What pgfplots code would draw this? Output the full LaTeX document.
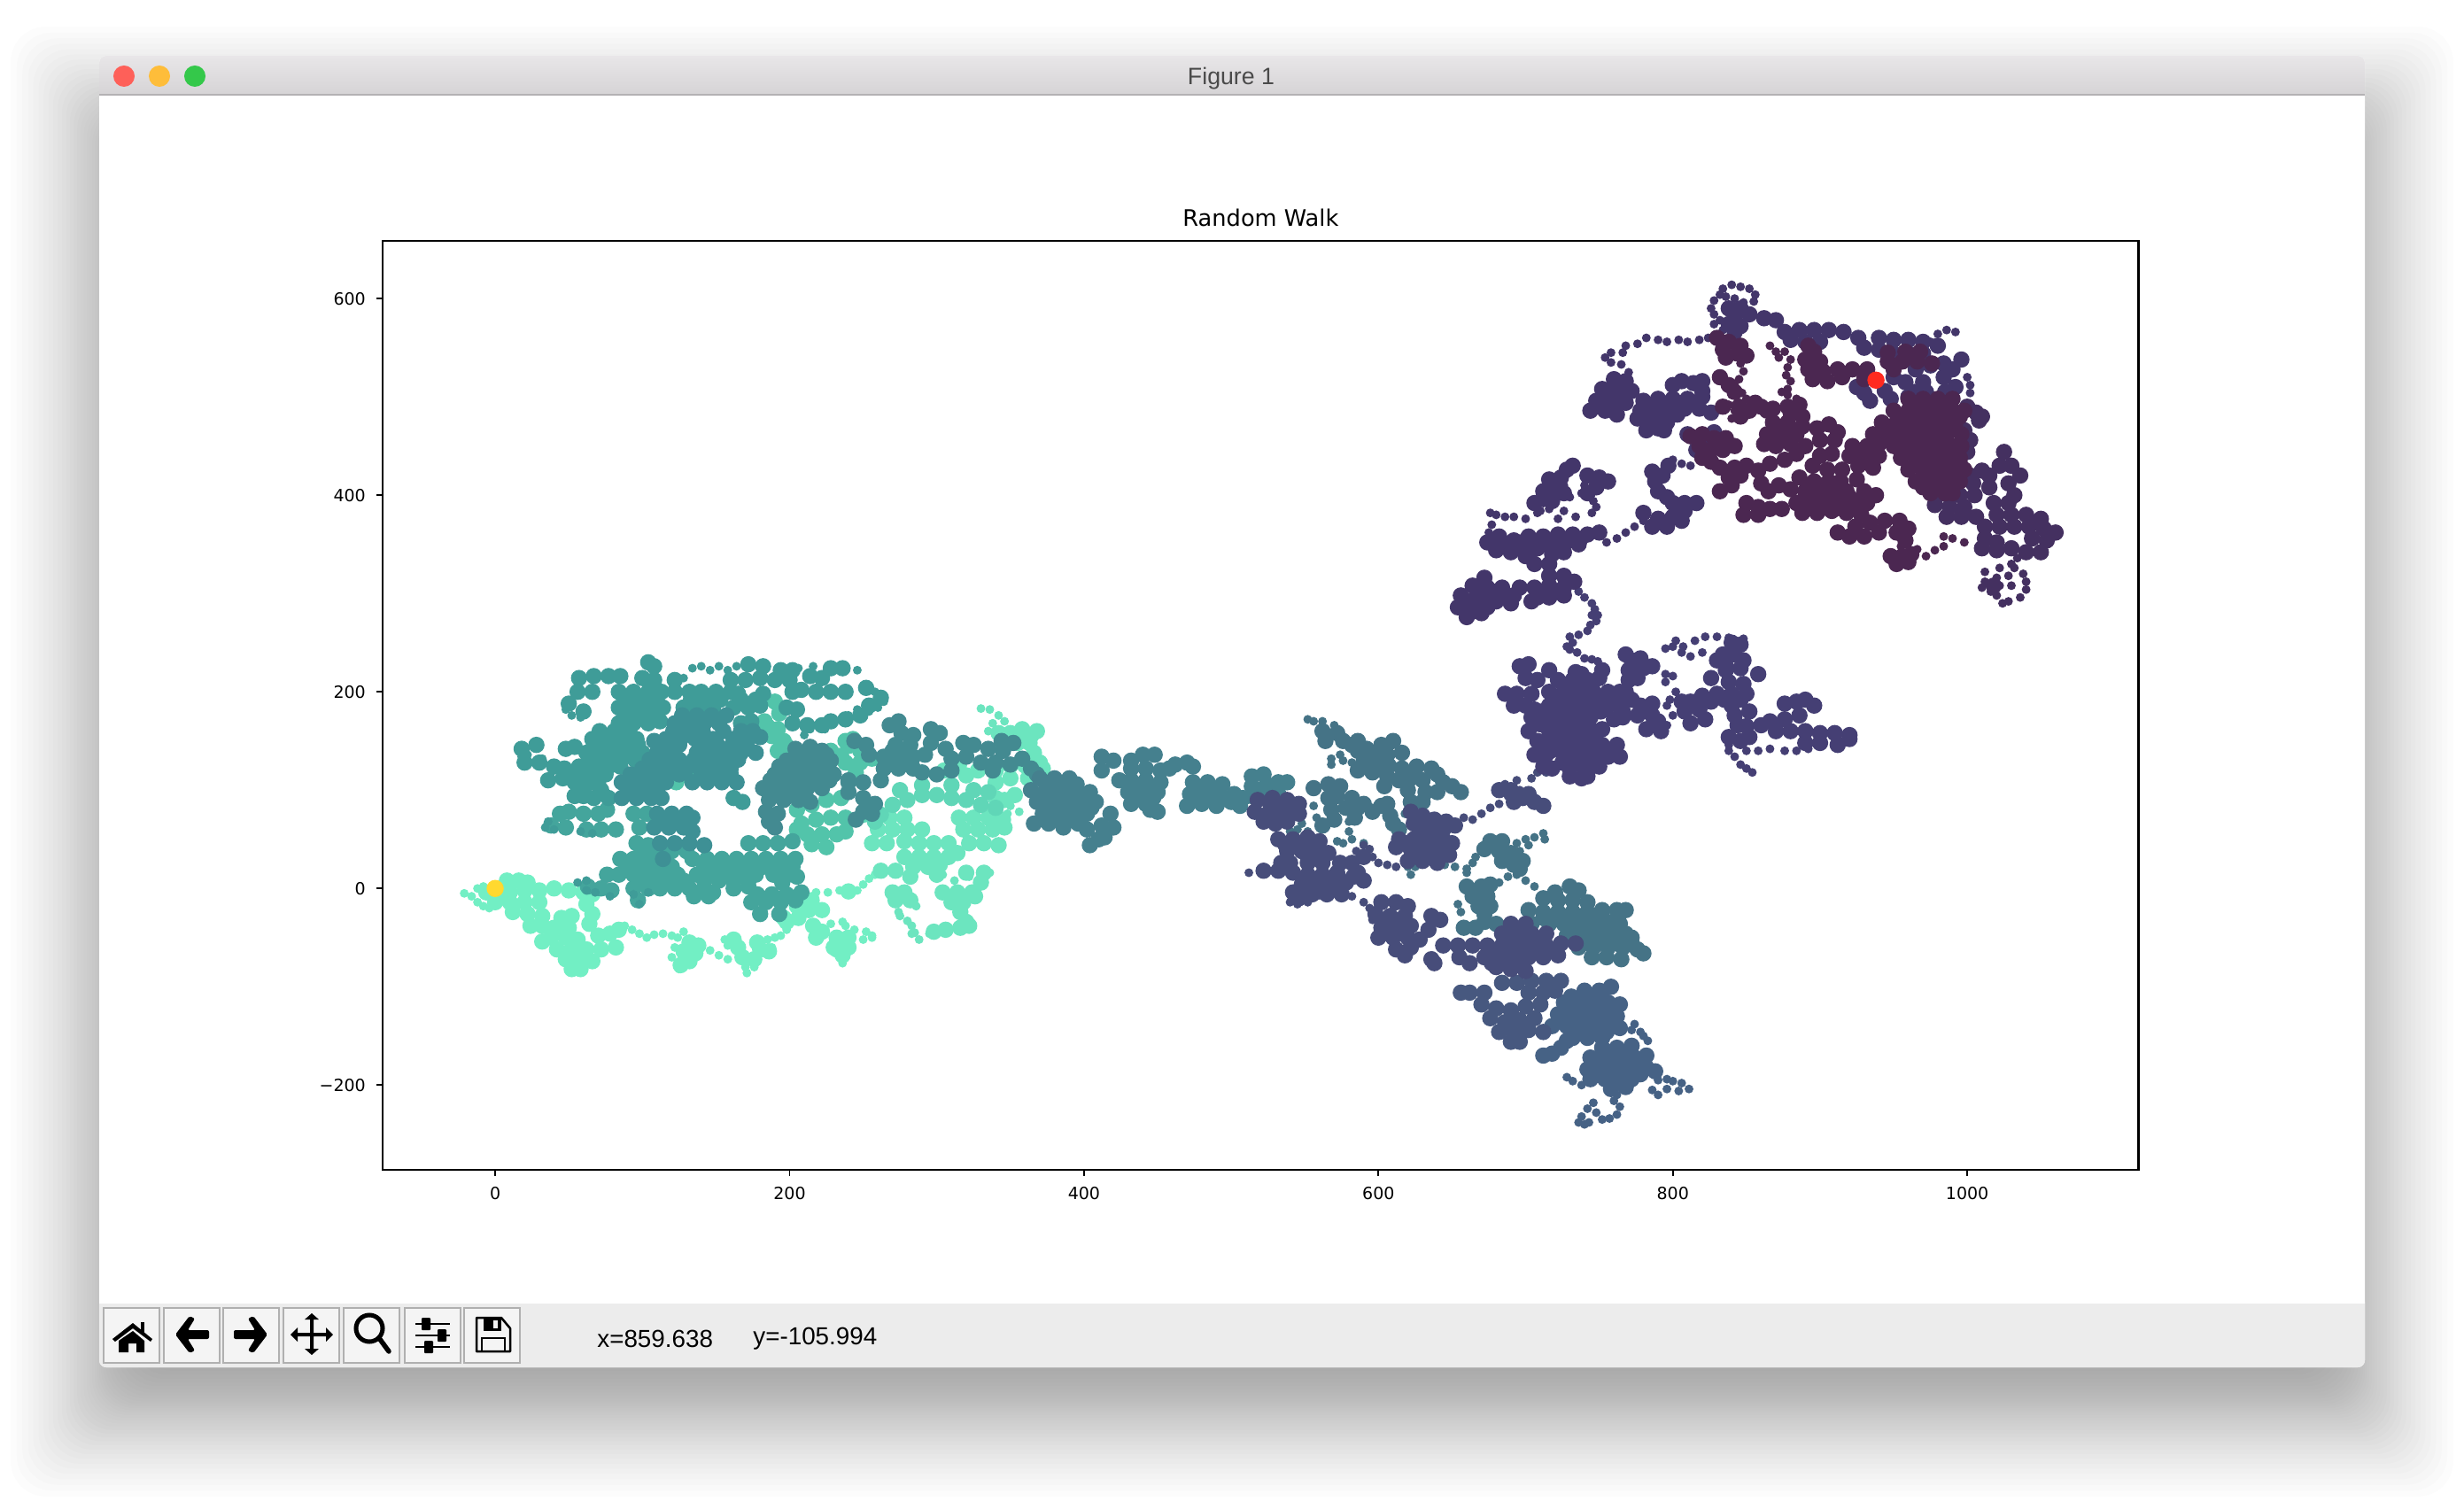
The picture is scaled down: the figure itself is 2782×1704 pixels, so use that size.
\documentclass[border=0pt]{standalone}
\usepackage{fontspec}
\setmainfont{DejaVu Sans}
\newfontfamily\uifont{Liberation Sans}
\usepackage{pgfplots}
\pgfplotsset{compat=1.18}
\definecolor{c01}{HTML}{72EFC4}
\definecolor{c01b}{HTML}{6CE5BF}
\definecolor{c02}{HTML}{60D6B7}
\definecolor{c03}{HTML}{52C4AA}
\definecolor{c04a}{HTML}{44A59C}
\definecolor{c04}{HTML}{3F9C98}
\definecolor{c04c}{HTML}{3E9095}
\definecolor{c05}{HTML}{438A91}
\definecolor{c06}{HTML}{45808E}
\definecolor{c07}{HTML}{457386}
\definecolor{c08}{HTML}{466285}
\definecolor{c09}{HTML}{47587F}
\definecolor{c10}{HTML}{474D7A}
\definecolor{c11}{HTML}{453F74}
\definecolor{c12}{HTML}{43366A}
\definecolor{c13}{HTML}{443060}
\definecolor{c14}{HTML}{4B2751}
\definecolor{bartop}{HTML}{E8E6E8}
\definecolor{barbot}{HTML}{D0CED0}
\definecolor{barline}{HTML}{B4B2B4}
\definecolor{toolbg}{HTML}{ECECEC}
\definecolor{btnline}{HTML}{B0B0B0}
\definecolor{btnfill}{HTML}{F4F4F4}
\definecolor{lightred}{HTML}{FE6059}
\definecolor{lightamber}{HTML}{FEBD3A}
\definecolor{lightgreen}{HTML}{34C84A}
\definecolor{titlegrey}{HTML}{4A4A4A}
\definecolor{startpt}{HTML}{FFD92F}
\definecolor{endpt}{HTML}{FF2A1F}
\pgfplotsset{
  clump/.style={only marks, color=#1, mark=*, mark size=0.085cm, mark options={solid, fill=#1, draw=none}},
  fine/.style={only marks, color=#1, mark=*, mark size=0.042cm, mark options={solid, fill=#1, draw=none}},
}
\begin{document}
\begin{tikzpicture}[x=0.01cm,y=-0.01cm]
\useasboundingbox (0,0) rectangle (2782,1704);
% window shadow
\foreach \i in {0,...,44}{
  \pgfmathsetmacro{\u}{1-2*\i/44}
  \pgfmathsetmacro{\d}{100*(0.5*\u+0.5*\u*abs(\u))}
  \fill[black, opacity=0.012, rounded corners=0.4cm]
    (112-\d,130-\d) rectangle (2670+\d,1590+\d);
}
% window
\fill[white, rounded corners=0.08cm] (112,63) rectangle (2670,1544);
\shade[top color=bartop, bottom color=barbot, rounded corners=0.08cm] (112,63) rectangle (2670,120);
\fill[white] (112,107) rectangle (2670,1472);
\fill[toolbg, rounded corners=0.08cm] (112,1462) rectangle (2670,1544);
\fill[white] (112,1462) rectangle (2670,1472);
\draw[barline, line width=0.02cm] (112,107) -- (2670,107);
\fill[lightred] (140,86) circle[radius=0.12cm];
\fill[lightamber] (180,86) circle[radius=0.12cm];
\fill[lightgreen] (220,86) circle[radius=0.12cm];
\node[text=titlegrey, font=\uifont\fontsize{7.6}{9}\selectfont] at (1390,89) {Figure 1};
% toolbar buttons
\foreach \a/\b in {117/180,185/248,252/315,320/383,388/451,457/520,524/587}{
  \draw[btnline, line width=0.025cm, fill=btnfill] (\a,1477) rectangle (\b,1539);
}
% home
\fill[black] (150,1494) -- (127,1512) -- (130,1515) -- (150,1500) -- (170,1515) -- (172,1512) -- cycle;
\fill[black] (134,1514) -- (150,1503) -- (163,1514) -- (163,1527) -- (154,1527) -- (154,1517) -- (145,1517) -- (145,1527) -- (134,1527) -- cycle;
\fill[black] (159,1493) rectangle (163,1506);
% back, forward
\fill[black, rounded corners=0.02cm] (198,1507) -- (214,1486) -- (220,1489) -- (212,1502) -- (236,1502) -- (236,1512) -- (212,1512) -- (220,1525) -- (214,1528) -- cycle;
\fill[black, rounded corners=0.02cm] (302,1507) -- (286,1486) -- (280,1489) -- (288,1502) -- (264,1502) -- (264,1512) -- (288,1512) -- (280,1525) -- (286,1528) -- cycle;
% move
\fill[black] (350,1490) -- (344,1490) -- (352,1483) -- (360,1490) -- (354,1490) -- (354,1505) -- (368,1505) -- (368,1499) -- (376,1507) -- (368,1515) -- (368,1509) -- (354,1509) -- (354,1523) -- (360,1523) -- (352,1530) -- (344,1523) -- (350,1523) -- (350,1509) -- (336,1509) -- (336,1515) -- (328,1507) -- (336,1499) -- (336,1505) -- (350,1505) -- cycle;
% zoom
\draw[black, line width=0.05cm] (417,1500) circle[radius=0.15cm];
\draw[black, line width=0.055cm, line cap=round] (428,1511) -- (439,1526);
% sliders
\foreach \yy/\kx in {1495/481,1508/499,1521/484}{
  \draw[black, line width=0.02cm] (469,\yy) -- (508,\yy);
  \fill[black, rounded corners=0.01cm] (\kx-5,\yy-7) rectangle (\kx+5,\yy+7);
}
% save
\draw[black, line width=0.025cm, line join=round] (538,1488) -- (566,1488) -- (576,1500) -- (576,1526) -- (538,1526) -- cycle;
\fill[black] (546,1488) rectangle (566,1503);
\fill[btnfill] (557,1491) rectangle (562,1500);
\draw[black, line width=0.025cm] (544,1526) -- (544,1511) -- (570,1511) -- (570,1526);
\node[anchor=west, text=black, font=\uifont\fontsize{7.9}{9}\selectfont] at (662,1512) {x=859.638};
\node[anchor=west, text=black, font=\uifont\fontsize{7.9}{9}\selectfont] at (838,1512) {y=-105.994};

\begin{axis}[
  at={(4.32cm,-13.2cm)}, anchor=south west,
  width=19.81cm, height=10.485cm, scale only axis,
  xmin=-76.3, xmax=1116.3, ymin=-286, ymax=659,
  axis line style={line width=0.022cm},
  tick style={black, line width=0.018cm},
  tick align=outside, major tick length=0.07cm,
  xtick={0,200,400,600,800,1000}, xticklabels={0,200,400,600,800,1000},
  ytick={-200,0,200,400,600}, yticklabels={−200,0,200,400,600},
  xtick pos=bottom, ytick pos=left,
  ticklabel style={font=\fontsize{5.4}{7}\selectfont},
  title={Random Walk},
  title style={font=\fontsize{7.3}{9}\selectfont, yshift=-0.18cm},
  clip=false,
]
% mint, lower left
\addplot[clump=c01] coordinates {(8,8)(16,8)(22,6)(-6,-4)(2,-4)(10,-4)(20,-2)(30,-2)(40,0)(50,-2)(60,-4)(66,-6)(0,-14)(10,-14)(20,-14)(30,-14)(12,-24)(22,-26)(32,-28)(62,-16)(66,-26)(45,-30)(52,-28)(24,-38)(32,-38)(40,-40)(50,-40)(64,-36)(38,-50)(48,-50)(56,-52)(70,-48)(78,-46)(84,-42)(42,-62)(52,-62)(62,-62)(72,-62)(82,-60)(48,-72)(58,-72)(66,-74)(52,-82)(58,-82)(32,-54)(132,-55)(138,-58)(128,-64)(136,-66)(132,-74)(126,-78)(162,-52)(165,-60)(168,-70)(176,-72)(180,-62)(186,-64)(178,-55)(198,-34)(206,-30)(216,-38)(222,-44)(205,-18)(213,-22)(215,-12)(208,-8)(222,-22)(218,-50)(196,-30)(232,-50)(240,-50)(230,-60)(240,-60)(236,-68)(232,-62)(240,-3)};
\addplot[fine=c01] coordinates {(-21,-5)(-16,-8)(-12,-14)(-8,-18)(-4,-20)(-12,0)(-8,2)(88,-38)(93,-42)(98,-46)(103,-50)(108,-47)(114,-46)(120,-48)(124,-50)(128,-44)(146,-63)(152,-68)(158,-72)(122,-60)(120,-70)(125,-82)(170,-80)(171,-86)(156,-52)(158,-58)(176,-80)(185,-52)(190,-50)(194,-48)(198,-42)(188,-60)(236,-76)(252,-44)(256,-48)(250,-52)(256,-50)(244,-42)(238,-38)(236,-34)(228,-36)(218,-4)(226,-4)(234,-2)(240,-4)(246,-2)(250,4)(254,10)(258,14)(264,18)(270,16)};
% mint, right part
\addplot[clump=c01b] coordinates {(258,72)(268,72)(278,72)(315,72)(325,72)(335,72)(345,70)(260,60)(270,60)(280,60)(290,60)(318,60)(328,60)(338,60)(346,62)(256,46)(266,46)(278,48)(288,46)(298,46)(308,46)(322,46)(332,46)(342,44)(278,32)(288,32)(298,32)(308,32)(314,36)(284,22)(294,22)(302,24)(262,18)(272,18)(282,12)(300,14)(320,16)(332,16)(270,-4)(278,-4)(272,-12)(282,-12)(304,-4)(314,-4)(324,-4)(310,-14)(318,-14)(326,-8)(330,6)(316,-24)(320,-34)(316,-40)(322,-38)(306,-42)(298,-44)(342,158)(350,158)(358,162)(364,155)(368,160)(363,148)(345,146)(355,148)(366,138)(370,128)(372,122)(360,125)(350,125)(340,120)(328,120)(315,125)(305,120)(350,112)(362,112)(340,108)(320,115)(353,95)(346,90)(340,92)};
\addplot[fine=c01b] coordinates {(332,14)(336,16)(300,10)(304,14)(322,12)(312,8)(275,-28)(280,-33)(283,-38)(285,-45)(288,-52)(283,-46)(295,-46)(286,-18)(274,-24)(330,183)(336,182)(342,176)(346,170)(338,168)(335,160)(350,84)(356,78)(348,76)};
\addplot[clump=c02] coordinates {(270,85)(280,90)(290,95)(300,95)(310,92)(320,90)(330,85)(340,82)(262,75)(275,100)(290,105)(310,105)(325,100)(335,98)(250,75)(258,68)};
% lighter teal
\addplot[clump=c03] coordinates {(205,80)(215,85)(225,90)(235,92)(208,66)(218,70)(228,72)(238,72)(212,55)(222,55)(232,55)(238,58)(215,45)(225,42)(205,60)(238,128)(248,128)(256,132)(245,118)(235,135)(228,140)(240,145)(248,140)(238,150)(185,165)(192,162)(196,150)(188,155)(193,178)(190,190)(183,170)(192,140)(198,145)(123,108)(130,115)(243,152)};
% teal, lower half of the big cluster
\addplot[clump=c04a] coordinates {(44,76)(50,78)(60,76)(70,76)(76,80)(94,76)(103,76)(38,64)(48,62)(62,60)(72,60)(82,60)(98,62)(96,46)(104,44)(172,46)(182,46)(192,46)(202,48)(85,30)(94,30)(104,30)(134,30)(144,30)(154,30)(164,30)(174,30)(184,30)(194,30)(204,30)(76,14)(84,14)(94,14)(104,14)(114,14)(124,14)(137,14)(147,14)(157,14)(167,14)(177,14)(189,14)(199,14)(205,12)(63,2)(72,0)(79,-2)(94,0)(104,0)(112,0)(122,0)(132,0)(142,0)(148,-4)(162,0)(172,2)(208,-4)(97,-12)(135,-8)(145,-8)(174,-14)(184,-14)(194,-14)(204,-12)(180,-26)(193,-26)(100,38)(110,38)(120,38)(130,38)(90,22)(100,22)(110,22)(120,22)(142,22)(152,22)(162,22)(172,22)(182,22)(192,22)(202,22)(98,8)(108,8)(118,8)(128,8)(142,8)(152,8)(162,8)(172,8)(195,6)(178,-6)(188,-6)(198,-6)};
% teal, upper half
\addplot[clump=c04] coordinates {(104,230)(108,226)(172,228)(182,226)(194,222)(202,222)(228,224)(236,224)(57,214)(67,216)(77,216)(85,216)(100,214)(108,212)(122,212)(160,212)(170,212)(180,214)(190,212)(200,212)(214,216)(222,214)(56,200)(66,200)(84,200)(94,200)(104,200)(113,200)(122,200)(132,200)(140,200)(150,200)(160,200)(165,198)(182,198)(202,200)(208,202)(218,200)(228,200)(238,200)(252,204)(262,194)(50,188)(60,180)(84,184)(94,184)(104,184)(114,184)(128,184)(138,184)(148,184)(162,184)(172,184)(180,186)(198,184)(205,182)(254,186)(84,168)(94,168)(104,168)(112,170)(167,168)(174,170)(202,168)(212,166)(222,166)(228,170)(238,172)(248,176)(66,152)(76,152)(85,152)(96,152)(18,142)(28,146)(48,142)(54,144)(62,138)(72,138)(82,138)(92,138)(100,138)(20,128)(30,128)(40,124)(47,122)(57,124)(67,124)(77,124)(85,124)(36,110)(46,112)(54,108)(64,108)(70,106)(54,94)(60,94)(67,92)(77,92)(162,92)(168,88)(89,192)(99,192)(109,192)(133,192)(143,192)(153,192)(167,192)(177,192)(89,176)(99,176)(109,176)(71,160)(81,160)(91,160)(67,146)(77,146)(87,146)(97,146)(65,131)(75,131)(85,131)(95,131)(55,116)(65,116)(75,116)(60,100)(72,100)};
\addplot[fine=c04] coordinates {(134,224)(140,226)(146,222)(152,226)(158,222)(164,226)(246,222)(128,214)(206,224)(216,226)(258,200)(264,190)(260,184)(254,180)(246,182)(240,176)(230,172)(224,162)(214,162)(204,176)(210,156)(18,134)(22,136)(32,132)(48,182)(52,176)(58,174)(36,68)(34,62)(40,60)(58,58)(66,56)(62,8)(56,6)(62,-2)(68,-4)(78,-8)(94,-6)(98,-16)(104,-4)};
% teal, darker core
\addplot[clump=c04c] coordinates {(122,168)(132,168)(142,168)(152,168)(108,150)(116,152)(126,152)(136,152)(148,152)(162,152)(172,152)(180,154)(110,138)(120,138)(137,138)(147,138)(157,138)(167,138)(177,138)(100,122)(110,122)(120,122)(130,122)(140,122)(150,122)(160,122)(86,108)(96,108)(106,108)(116,108)(134,108)(144,108)(154,108)(164,108)(86,92)(96,92)(106,92)(113,92)(110,76)(120,76)(130,76)(134,72)(108,62)(118,62)(128,62)(134,58)(112,46)(122,46)(132,46)(142,44)(114,30)(127,176)(137,176)(147,176)(157,176)(121,160)(131,160)(141,160)(155,160)(167,160)(175,160)(115,146)(125,146)(141,146)(151,146)(161,146)(171,146)(105,131)(115,131)(125,131)(135,131)(145,131)(155,131)(165,131)(92,116)(102,116)(112,116)(125,116)(140,116)(150,116)(160,116)(90,100)(100,100)(110,100)(115,68)(125,68)};
% dark teal stretch
\addplot[clump=c05] coordinates {(204,142)(214,144)(222,140)(198,130)(208,130)(218,130)(228,130)(190,116)(200,116)(210,116)(220,116)(230,116)(182,102)(192,102)(202,102)(212,102)(222,102)(186,90)(196,90)(206,90)(214,88)(184,78)(192,76)(186,68)(190,62)(240,108)(250,108)(240,98)(250,92)(258,86)(250,78)(245,70)(256,76)(268,166)(274,170)(276,158)(284,156)(272,146)(282,146)(264,134)(274,134)(284,134)(292,136)(264,122)(274,122)(284,122)(290,118)(252,146)(244,150)(254,136)(240,110)(262,110)(296,162)(302,158)(296,148)(306,142)(310,132)(320,134)(330,128)(340,128)(345,140)(335,142)(325,146)(338,120)(350,126)(358,132)(364,122)(368,116)(352,148)(344,150)(318,148)(310,120)(300,116)(205,136)(215,136)(225,136)(193,124)(203,124)(213,124)(223,124)(187,110)(197,110)(207,110)(217,110)(227,110)(190,96)(200,96)(210,96)(270,140)(280,140)(270,128)(280,128)};
% central stretch
\addplot[clump=c06] coordinates {(370,112)(380,112)(390,112)(364,100)(374,100)(384,100)(394,100)(404,98)(368,88)(378,88)(388,88)(398,88)(408,88)(372,76)(382,76)(392,76)(402,76)(366,66)(376,66)(386,62)(396,66)(402,60)(412,64)(420,62)(410,50)(404,44)(414,52)(418,76)(412,134)(420,130)(412,120)(432,122)(424,110)(440,136)(448,136)(432,130)(442,122)(452,120)(432,110)(442,110)(452,108)(430,98)(440,98)(450,98)(432,86)(442,86)(450,78)(445,80)(458,122)(470,128)(474,124)(462,126)(474,108)(484,108)(494,106)(472,96)(482,96)(492,96)(502,96)(470,84)(480,86)(490,84)(500,88)(506,84)(508,92)(514,114)(522,116)(514,104)(524,106)(532,108)(538,108)(522,96)(532,96)(514,94)(375,106)(385,106)(395,106)(372,94)(382,94)(392,94)(402,92)(375,82)(385,82)(395,82)(405,82)(378,70)(388,70)(398,70)(437,104)(447,104)(437,92)(447,92)(478,102)(488,102)(478,90)(488,90)(498,90)};
% upper branch
\addplot[fine=c07] coordinates {(552,172)(556,170)(562,170)(570,166)(568,132)(574,136)(568,126)(576,130)(582,128)(620,94)(618,76)(624,70)(580,68)(580,58)(582,50)(572,48)(576,46)(590,46)(545,60)(552,58)(540,58)(548,66)(558,72)(556,84)(620,22)(622,14)(625,22)(645,24)(652,22)(660,20)(664,26)(666,32)(660,16)(694,46)(700,50)(706,52)(712,56)(713,50)(702,44)(696,38)(682,6)(688,12)(694,14)(700,8)(706,2)(654,-16)(656,-24)};
\addplot[clump=c07] coordinates {(562,160)(572,158)(564,150)(576,150)(582,146)(586,150)(592,142)(602,146)(610,150)(586,140)(596,136)(606,136)(616,138)(590,130)(600,126)(586,120)(596,118)(606,114)(616,122)(626,124)(636,122)(604,104)(614,110)(622,112)(630,110)(640,116)(644,108)(650,104)(656,98)(620,100)(632,98)(640,98)(622,88)(630,88)(556,102)(566,106)(574,104)(572,94)(582,92)(566,92)(578,82)(586,82)(596,78)(602,84)(590,86)(568,80)(584,72)(570,70)(562,64)(606,86)(608,74)(610,66)(614,60)(676,48)(684,48)(672,40)(682,38)(690,36)(684,28)(692,24)(696,20)(698,28)(660,2)(670,2)(676,4)(664,-8)(674,-8)(668,-18)(676,-18)(672,-26)(658,-40)(666,-40)(672,-34)(680,-36)(730,2)(736,-2)(720,-4)(712,-10)(722,-12)(732,-12)(742,-14)(702,-22)(712,-24)(722,-24)(732,-24)(742,-24)(752,-22)(762,-22)(768,-22)(704,-36)(716,-36)(726,-36)(736,-36)(746,-36)(756,-36)(764,-36)(728,-48)(738,-48)(748,-48)(758,-48)(768,-46)(772,-50)(736,-60)(746,-60)(756,-60)(766,-60)(776,-62)(780,-66)(745,-70)(755,-70)(765,-72)(712,-30)(722,-30)(732,-30)(742,-30)(752,-30)(762,-30)(732,-42)(742,-42)(752,-42)(762,-42)(742,-54)(752,-54)(762,-54)(772,-56)(597,127)(607,125)};
% bottom lobe
\addplot[clump=c08] coordinates {(740,-104)(750,-104)(758,-100)(726,-116)(736,-116)(746,-116)(756,-116)(764,-118)(722,-128)(732,-128)(742,-128)(752,-128)(762,-130)(718,-140)(728,-140)(738,-140)(748,-140)(758,-140)(764,-142)(732,-152)(742,-152)(752,-152)(752,-162)(762,-162)(772,-160)(744,-172)(754,-172)(764,-172)(774,-172)(782,-170)(742,-184)(752,-184)(762,-184)(772,-184)(782,-182)(788,-186)(744,-194)(754,-194)(764,-194)(772,-194)(758,-204)(768,-202)(712,-170)(718,-168)(724,-162)(728,-155)(731,-110)(741,-110)(751,-110)(727,-122)(737,-122)(747,-122)(757,-122)(727,-134)(737,-134)(747,-134)(757,-134)(735,-146)(745,-146)(755,-146)(757,-168)(767,-168)(749,-178)(759,-178)(769,-178)(779,-178)(748,-189)(758,-189)(768,-189)(778,-189)};
\addplot[fine=c08] coordinates {(728,-192)(732,-196)(738,-200)(778,-146)(772,-144)(774,-138)(780,-150)(783,-155)(790,-195)(796,-194)(800,-196)(806,-198)(811,-204)(804,-206)(796,-204)(790,-210)(786,-205)(762,-210)(760,-216)(764,-222)(762,-230)(757,-234)(752,-235)(748,-228)(746,-218)(742,-224)(738,-232)(736,-238)(740,-240)(743,-238)};
\addplot[clump=c09] coordinates {(684,-96)(694,-96)(704,-94)(714,-94)(724,-94)(672,-106)(662,-106)(656,-106)(702,-106)(712,-106)(720,-104)(670,-118)(680,-122)(690,-124)(700,-120)(710,-118)(676,-132)(686,-136)(696,-134)(706,-132)(682,-146)(692,-146)(702,-144)(712,-146)(690,-156)(696,-156)};
% middle blob and left part
\addplot[clump=c10] coordinates {(690,-36)(700,-36)(684,-46)(694,-46)(704,-46)(714,-46)(674,-58)(684,-58)(694,-58)(704,-58)(714,-58)(724,-56)(734,-56)(664,-58)(654,-58)(644,-58)(672,-70)(682,-70)(692,-70)(702,-70)(712,-70)(722,-68)(662,-76)(680,-80)(690,-82)(700,-84)(655,-70)(636,-72)(602,-14)(612,-14)(620,-18)(598,-26)(608,-28)(618,-28)(636,-28)(642,-32)(602,-40)(612,-40)(622,-38)(634,-42)(600,-50)(610,-50)(620,-50)(612,-62)(622,-60)(628,-52)(618,-68)(638,-76)(518,90)(528,92)(538,90)(546,86)(516,78)(526,78)(536,78)(546,76)(530,66)(522,68)(538,68)(532,50)(542,50)(552,52)(560,48)(538,38)(548,38)(558,38)(566,36)(552,26)(562,26)(540,26)(522,18)(532,18)(542,16)(534,26)(552,14)(562,14)(572,16)(582,26)(590,32)(586,16)(574,26)(548,4)(558,4)(568,4)(578,6)(590,8)(555,-6)(565,-6)(575,-6)(560,-3)(542,-4)(546,-10)(622,78)(630,74)(638,70)(646,68)(652,64)(624,66)(634,62)(644,60)(614,50)(624,50)(634,50)(644,50)(650,46)(612,42)(622,40)(632,40)(642,38)(648,34)(620,28)(630,28)(640,26)(682,100)(690,100)(698,92)(706,88)(712,84)(692,88)(702,96)(689,-52)(699,-52)(709,-52)(679,-64)(689,-64)(699,-64)(709,-64)(719,-62)(677,-76)(687,-76)(697,-76)(537,44)(547,44)(557,44)(552,32)(562,32)(553,8)(563,8)(573,10)(583,12)(550,-2)(570,0)(619,46)(629,46)(639,46)(627,34)(637,32)(629,56)(639,56)(527,84)(537,84)(527,72)(537,72)(605,-34)(615,-34)(605,-45)(615,-45)};
\addplot[fine=c10] coordinates {(582,-8)(590,-14)(594,-20)(596,-32)(594,40)(590,44)(596,32)(600,26)(606,24)(612,22)(585,38)(540,-14)(545,-16)(552,-14)(512,16)(658,72)(664,70)(670,76)(676,82)(682,86)(688,94)(696,100)(704,112)(708,118)(714,118)(686,106)(694,110)};
% indigo cluster
\addplot[clump=c11] coordinates {(696,226)(702,228)(716,222)(734,220)(738,218)(752,222)(700,214)(708,212)(722,212)(732,212)(742,212)(750,214)(686,198)(694,198)(704,198)(716,200)(726,200)(736,200)(746,200)(756,200)(764,200)(692,186)(700,186)(706,182)(716,186)(726,186)(736,186)(746,186)(756,186)(764,186)(766,180)(704,174)(714,174)(724,174)(734,174)(744,174)(760,172)(766,174)(702,160)(716,160)(726,160)(736,160)(746,160)(752,162)(712,146)(722,146)(732,146)(742,146)(752,146)(762,146)(708,150)(706,136)(714,136)(726,134)(736,134)(746,134)(756,134)(764,134)(712,124)(718,122)(730,122)(740,122)(750,124)(730,114)(738,112)(742,114)(768,200)(772,192)(778,186)(786,188)(776,176)(786,176)(790,170)(782,162)(792,160)(770,212)(776,214)(770,222)(780,224)(772,232)(778,234)(786,226)(768,238)(812,190)(820,196)(830,198)(840,198)(850,198)(806,190)(808,180)(818,182)(812,168)(822,172)(838,210)(848,208)(826,214)(836,222)(846,224)(858,218)(842,176)(852,180)(840,186)(850,165)(844,166)(838,154)(846,150)(852,154)(860,166)(866,170)(876,172)(886,176)(876,188)(884,190)(890,192)(896,186)(870,160)(880,160)(890,160)(900,158)(910,158)(920,156)(890,148)(900,148)(912,146)(920,152)(834,238)(842,238)(848,232)(840,250)(846,248)(836,226)(830,232)(721,193)(731,193)(741,193)(751,193)(761,193)(711,180)(721,180)(731,180)(741,180)(751,180)(710,167)(720,167)(730,167)(740,167)(717,153)(727,153)(737,153)(747,153)(717,140)(730,140)(740,140)(750,140)(760,140)(735,128)(745,128)(725,128)(727,206)(737,206)(745,206)(816,190)(826,190)(846,192)(835,192)};
\addplot[fine=c11] coordinates {(807,246)(795,244)(800,246)(802,252)(806,240)(815,252)(822,256)(830,256)(838,255)(848,254)(820,240)(812,236)(795,218)(800,216)(795,210)(802,200)(798,192)(796,186)(800,176)(796,166)(860,216)(838,140)(842,134)(846,126)(850,122)(854,118)(838,146)(850,140)(858,140)(866,142)(876,140)(884,140)(892,142)(900,146)(751,222)(749,231)(745,233)(740,234)(735,240)(730,243)(728,246)(732,250)(730,256)(736,258)(742,262)(744,268)(748,272)(745,278)(749,278)(747,284)(745,290)(740,296)(736,302)};
% upper left of the last part
\addplot[clump=c12] coordinates {(672,316)(664,308)(674,306)(684,306)(656,298)(666,296)(676,296)(686,296)(692,298)(654,286)(664,286)(674,286)(690,290)(660,276)(665,282)(696,306)(706,306)(716,308)(726,306)(708,296)(716,296)(726,298)(704,292)(716,318)(726,318)(733,312)(716,330)(706,330)(718,340)(726,342)(700,338)(708,346)(682,358)(692,354)(674,352)(702,358)(712,358)(722,360)(732,360)(742,360)(750,362)(696,346)(706,346)(716,348)(726,350)(736,350)(680,344)(690,342)(712,396)(718,394)(712,404)(720,404)(716,416)(724,418)(728,426)(732,430)(742,420)(750,418)(756,414)(748,408)(742,402)(726,402)(706,392)(780,382)(790,376)(800,378)(808,384)(786,368)(796,368)(806,374)(816,392)(800,392)(796,398)(808,392)(790,404)(788,414)(786,424)(793,420)(797,430)(760,518)(768,516)(752,508)(762,508)(772,506)(748,496)(758,496)(768,494)(744,486)(754,486)(762,482)(780,496)(790,498)(800,498)(810,498)(820,500)(778,486)(788,488)(798,488)(808,488)(818,488)(826,484)(776,478)(786,476)(796,474)(790,468)(782,466)(794,466)(800,512)(806,516)(814,514)(820,516)(820,506)(810,462)(818,456)(828,464)(826,454)(816,446)(824,444)(838,590)(846,590)(842,582)(852,584)(862,580)(870,578)(846,572)(838,574)(842,566)(876,566)(886,568)(896,568)(906,568)(916,566)(880,558)(890,556)(900,556)(926,560)(940,560)(950,558)(960,558)(970,556)(980,552)(940,548)(950,544)(960,544)(970,544)(930,550)(984,534)(975,532)(965,528)(950,520)(958,515)(970,515)(984,520)(990,528)(996,538)(964,505)(972,505)(985,505)(992,510)(944,506)(948,498)(930,504)(934,496)(925,510)(960,500)(670,302)(680,302)(660,292)(670,292)(680,292)(670,280)(711,302)(721,302)(697,352)(707,352)(717,354)(727,355)(737,355)(683,350)(693,348)(755,502)(765,502)(750,491)(758,490)(783,492)(793,493)(803,493)(813,493)(783,481)(793,481)(803,482)};
\addplot[fine=c12] coordinates {(680,380)(686,378)(692,378)(700,376)(708,382)(716,386)(722,376)(726,384)(734,378)(676,382)(677,370)(675,362)(738,402)(746,394)(748,388)(745,382)(730,398)(726,410)(710,384)(740,410)(755,352)(762,356)(768,362)(774,368)(780,374)(786,370)(800,436)(806,432)(812,430)(770,525)(765,533)(758,535)(754,540)(758,545)(766,545)(768,552)(776,554)(790,558)(782,560)(796,556)(804,558)(810,556)(818,558)(824,560)(830,558)(826,590)(828,598)(832,604)(834,610)(840,614)(846,612)(852,610)(856,604)(855,597)(848,596)(842,600)(836,602)(828,584)(832,578)(828,574)(834,568)(980,564)(986,568)(992,566)(975,556)(1000,520)(1002,512)(1002,504)};
% right lobe
\addplot[clump=c13] coordinates {(995,400)(1005,400)(1015,420)(1022,430)(1025,444)(1030,430)(1036,420)(1028,412)(1015,408)(1004,412)(992,412)(1010,425)(1002,420)(980,400)(990,400)(978,390)(988,388)(998,388)(986,378)(996,378)(1006,378)(1018,392)(1028,392)(1032,400)(1020,380)(1030,380)(1040,380)(1050,376)(1012,368)(1022,368)(1032,368)(1042,368)(1052,366)(1060,362)(1012,356)(1020,352)(1044,356)(1054,354)(1010,346)(1020,344)(1030,346)(1040,342)(1050,342)(1018,308)(1000,490)(1006,484)(1008,476)(998,466)(1002,456)(1000,444)(1010,480)};
\addplot[fine=c13] coordinates {(1034,336)(1030,330)(1022,326)(1032,326)(1038,320)(1028,318)(1020,316)(1012,312)(1010,306)(1016,302)(1020,298)(1024,290)(1028,292)(1036,296)(1040,304)(1040,312)(1022,308)(1030,308)(1012,322)};
% last plum stretch
\addplot[clump=c14] coordinates {(960,498)(970,498)(980,498)(990,498)(950,486)(960,486)(970,486)(980,486)(990,486)(998,486)(942,474)(952,474)(962,474)(972,474)(982,474)(992,474)(936,462)(946,462)(956,462)(966,462)(976,462)(986,462)(996,462)(950,450)(960,450)(970,450)(980,450)(990,450)(996,450)(955,438)(965,438)(975,438)(985,438)(995,438)(960,426)(970,426)(980,426)(990,426)(998,426)(965,414)(975,414)(985,414)(995,414)(975,402)(985,402)(990,402)(922,450)(932,450)(940,452)(920,440)(930,440)(940,440)(926,430)(936,428)(898,468)(906,472)(912,464)(900,456)(910,456)(864,486)(880,484)(888,480)(868,474)(878,474)(888,470)(864,462)(874,462)(884,462)(862,452)(870,450)(880,452)(890,450)(900,440)(908,442)(895,430)(905,426)(915,426)(886,418)(896,414)(906,414)(914,414)(880,406)(890,404)(900,404)(910,404)(918,404)(925,416)(884,392)(894,392)(904,392)(914,392)(924,392)(932,392)(938,400)(930,404)(888,382)(898,382)(908,384)(918,382)(928,380)(850,392)(858,388)(866,386)(874,386)(848,380)(858,380)(865,404)(872,410)(860,412)(850,430)(858,425)(866,432)(876,436)(884,442)(838,418)(842,428)(840,410)(832,404)(846,420)(912,362)(920,358)(930,358)(940,362)(924,368)(934,372)(944,374)(954,374)(960,366)(952,362)(958,354)(948,338)(956,338)(962,340)(952,330)(960,332)(830,560)(838,556)(846,552)(834,548)(844,544)(850,542)(836,540)(832,520)(842,505)(838,512)(845,490)(852,486)(846,480)(834,490)(812,460)(820,462)(828,458)(836,458)(818,450)(826,446)(834,446)(842,450)(826,434)(832,428)(820,438)(892,552)(896,546)(890,538)(900,536)(892,528)(902,526)(912,528)(922,528)(932,528)(895,518)(905,516)(915,520)(930,518)(946,536)(956,536)(966,536)(976,534)(950,528)(946,545)(958,546)(968,546)(868,488)(878,490)(886,492)(860,490)(856,494)(965,492)(975,492)(985,492)(955,480)(965,480)(975,480)(985,480)(995,480)(947,468)(957,468)(967,468)(977,468)(987,468)(955,456)(965,456)(975,456)(985,456)(960,444)(970,444)(980,444)(990,444)(965,432)(975,432)(985,432)(995,432)(970,420)(980,420)(990,420)(970,408)(980,408)(892,410)(902,410)(912,410)(890,398)(900,398)(910,398)(920,398)(930,398)(892,387)(902,387)(912,387)(922,387)(870,468)(880,468)(870,456)(880,456)(925,445)(935,445)(931,435)};
\addplot[fine=c14] coordinates {(972,338)(978,344)(984,348)(984,358)(990,356)(998,352)(966,345)(955,348)(846,534)(848,526)(845,518)(842,512)(847,504)(850,498)(846,490)(842,486)(840,478)(838,510)(840,502)(838,492)(866,552)(870,546)(876,546)(880,538)(872,540)(878,530)(877,522)(880,516)(878,508)(878,502)(884,498)(874,505)};
% start and end points
\addplot[only marks, mark=*, mark size=0.09cm, color=startpt, mark options={fill=startpt, draw=none}] coordinates {(0,0)};
\addplot[only marks, mark=*, mark size=0.09cm, color=endpt, mark options={fill=endpt, draw=none}] coordinates {(938,517)};
\end{axis}
\end{tikzpicture}
\end{document}
